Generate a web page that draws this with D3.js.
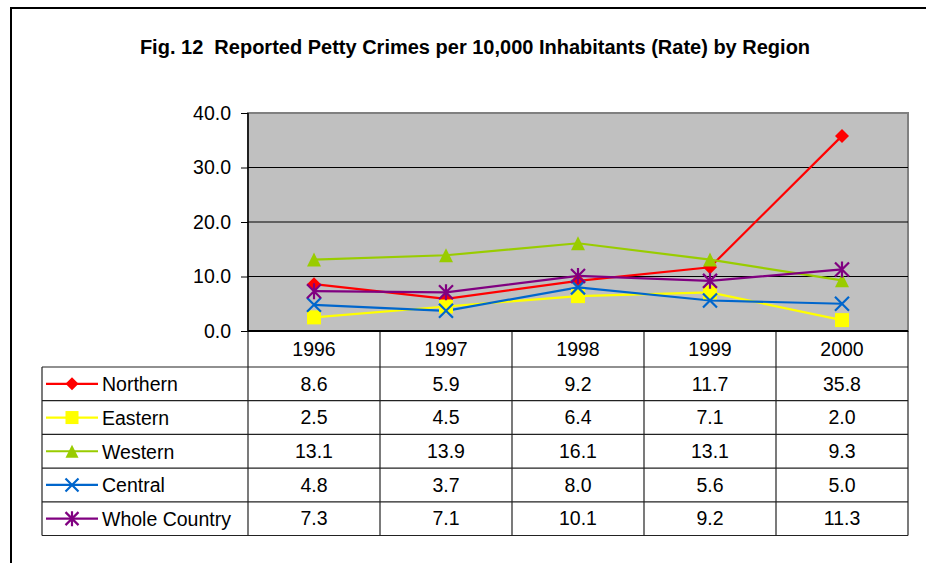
<!DOCTYPE html>
<html>
<head>
<meta charset="utf-8">
<script src="https://cdn.jsdelivr.net/npm/d3@7"></script>
<style>
  body { margin: 0; background: #fff; }
  text { font-family: "Liberation Sans", Arial, sans-serif; fill: #000; }
</style>
</head>
<body>
<div id="chart"></div>
<script>
// data
const years = ["1996", "1997", "1998", "1999", "2000"];
const regions = ["Northern", "Eastern", "Western", "Central", "Whole Country"];
const northern = [8.6, 5.9, 9.2, 11.7, 35.8];
const eastern = [2.5, 4.5, 6.4, 7.1, 2.0];
const western = [13.1, 13.9, 16.1, 13.1, 9.3];
const central = [4.8, 3.7, 8.0, 5.6, 5.0];
const wholeCountry = [7.3, 7.1, 10.1, 9.2, 11.3];
const yTicks = [0, 10, 20, 30, 40];

const seriesValues = [northern, eastern, western, central, wholeCountry];
const colors = ["#ff0000", "#ffff00", "#99cc00", "#0066cc", "#800080"];
const shapes = ["diamond", "square", "triangle", "cross", "star"];

const svgWidth = 926;
const svgHeight = 563;

const plot = { left: 248, right: 908, top: 113, bottom: 331 };
const table = { left: 42, headerBottom: 367, rowH: 33.7 };

const svg = d3.select("#chart")
  .append("svg")
  .attr("width", svgWidth)
  .attr("height", svgHeight);

// outer frame (runs off right and bottom)
svg.append("rect")
  .attr("x", 11).attr("y", 8)
  .attr("width", 940).attr("height", 600)
  .attr("fill", "none")
  .attr("stroke", "#000")
  .attr("stroke-width", 2);

svg.append("text")
  .attr("x", 475)
  .attr("y", 54)
  .attr("text-anchor", "middle")
  .style("font-size", "20px")
  .style("font-weight", "bold")
  .style("white-space", "pre")
  .text("Fig. 12  Reported Petty Crimes per 10,000 Inhabitants (Rate) by Region");

const x = d3.scaleBand()
  .domain(years)
  .range([plot.left, plot.right]);

const y = d3.scaleLinear()
  .domain([0, 40])
  .range([plot.bottom, plot.top]);

// plot area
svg.append("rect")
  .attr("x", plot.left).attr("y", plot.top)
  .attr("width", plot.right - plot.left)
  .attr("height", plot.bottom - plot.top)
  .attr("fill", "#c0c0c0")
  .attr("stroke", "#808080")
  .attr("stroke-width", 2);

// gridlines
svg.selectAll(".grid")
  .data(yTicks.filter(d => d > 0 && d < 40))
  .enter()
  .append("line")
  .attr("x1", plot.left).attr("x2", plot.right)
  .attr("y1", d => y(d)).attr("y2", d => y(d))
  .attr("stroke", "#000")
  .attr("stroke-width", 1);

// y axis
const leftAxis = d3.axisLeft(y)
  .tickValues(yTicks)
  .tickSize(7)
  .tickPadding(10)
  .tickFormat(d3.format(".1f"));

const yAxis = svg.append("g")
  .attr("transform", `translate(${plot.left}, 0)`)
  .call(leftAxis);
yAxis.select(".domain").remove();
yAxis.selectAll("text")
  .style("font-size", "19.5px")
  .style("font-family", "'Liberation Sans', Arial, sans-serif");
yAxis.selectAll("line").attr("stroke", "#000");

// table grid
const rowsBottom = table.headerBottom + regions.length * table.rowH;
const tableLines = svg.append("g")
  .attr("stroke", "#222")
  .attr("stroke-width", 1.2);

d3.range(regions.length + 1).forEach(i => {
  const yy = table.headerBottom + i * table.rowH;
  tableLines.append("line")
    .attr("x1", table.left).attr("x2", plot.right)
    .attr("y1", yy).attr("y2", yy);
});
tableLines.append("line")
  .attr("x1", table.left).attr("x2", table.left)
  .attr("y1", table.headerBottom).attr("y2", rowsBottom);
years.forEach(yr => {
  tableLines.append("line")
    .attr("x1", x(yr)).attr("x2", x(yr))
    .attr("y1", plot.bottom).attr("y2", rowsBottom);
});
tableLines.append("line")
  .attr("x1", plot.right).attr("x2", plot.right)
  .attr("y1", plot.bottom).attr("y2", rowsBottom);

// left axis line and base line
svg.append("line")
  .attr("x1", plot.left).attr("x2", plot.left)
  .attr("y1", plot.top).attr("y2", plot.bottom)
  .attr("stroke", "#000").attr("stroke-width", 1.5);
svg.append("line")
  .attr("x1", plot.left).attr("x2", plot.right)
  .attr("y1", plot.bottom).attr("y2", plot.bottom)
  .attr("stroke", "#000").attr("stroke-width", 2);

// header years
svg.selectAll(".year")
  .data(years)
  .enter()
  .append("text")
  .attr("x", d => x(d) + x.bandwidth() / 2)
  .attr("y", (plot.bottom + table.headerBottom) / 2)
  .attr("dy", "0.35em")
  .attr("text-anchor", "middle")
  .style("font-size", "19.5px")
  .text(d => d);

// markers
function drawMarker(g, shape, color, s) {
  const h = s / 2;
  if (shape === "diamond") {
    g.append("path")
      .attr("d", `M0,${-h}L${h},0L0,${h}L${-h},0Z`)
      .attr("fill", color);
  } else if (shape === "square") {
    g.append("rect")
      .attr("x", -h).attr("y", -h)
      .attr("width", s).attr("height", s)
      .attr("fill", color);
  } else if (shape === "triangle") {
    g.append("path")
      .attr("d", `M0,${-h}L${h},${h}L${-h},${h}Z`)
      .attr("fill", color);
  } else if (shape === "cross") {
    g.append("path")
      .attr("d", `M${-h},${-h}L${h},${h}M${-h},${h}L${h},${-h}`)
      .attr("stroke", color).attr("stroke-width", 2.2)
      .attr("fill", "none");
  } else {
    g.append("path")
      .attr("d", `M${-h},${-h}L${h},${h}M${-h},${h}L${h},${-h}M0,${-h - 1}L0,${h + 1}`)
      .attr("stroke", color).attr("stroke-width", 2.2)
      .attr("fill", "none");
  }
}

const line = d3.line()
  .x((d, i) => x(years[i]) + x.bandwidth() / 2)
  .y(d => y(d));

seriesValues.forEach((vals, si) => {
  svg.append("path")
    .datum(vals)
    .attr("d", line)
    .attr("fill", "none")
    .attr("stroke", colors[si])
    .attr("stroke-width", 2.2);
});

seriesValues.forEach((vals, si) => {
  vals.forEach((v, i) => {
    const g = svg.append("g")
      .attr("transform", `translate(${x(years[i]) + x.bandwidth() / 2}, ${y(v)})`);
    drawMarker(g, shapes[si], colors[si], 14);
  });
});

// table rows: legend keys, names and values
regions.forEach((name, si) => {
  const cy = table.headerBottom + (si + 0.5) * table.rowH;
  svg.append("line")
    .attr("x1", 46).attr("x2", 98)
    .attr("y1", cy).attr("y2", cy)
    .attr("stroke", colors[si])
    .attr("stroke-width", 2.2);
  const g = svg.append("g").attr("transform", `translate(72, ${cy})`);
  drawMarker(g, shapes[si], colors[si], 13);

  svg.append("text")
    .attr("x", 102)
    .attr("y", cy)
    .attr("dy", "0.38em")
    .style("font-size", "19.5px")
    .text(name);

  seriesValues[si].forEach((v, i) => {
    svg.append("text")
      .attr("x", x(years[i]) + x.bandwidth() / 2)
      .attr("y", cy)
      .attr("dy", "0.35em")
      .attr("text-anchor", "middle")
      .style("font-size", "19.5px")
      .text(d3.format(".1f")(v));
  });
});
</script>
</body>
</html>
